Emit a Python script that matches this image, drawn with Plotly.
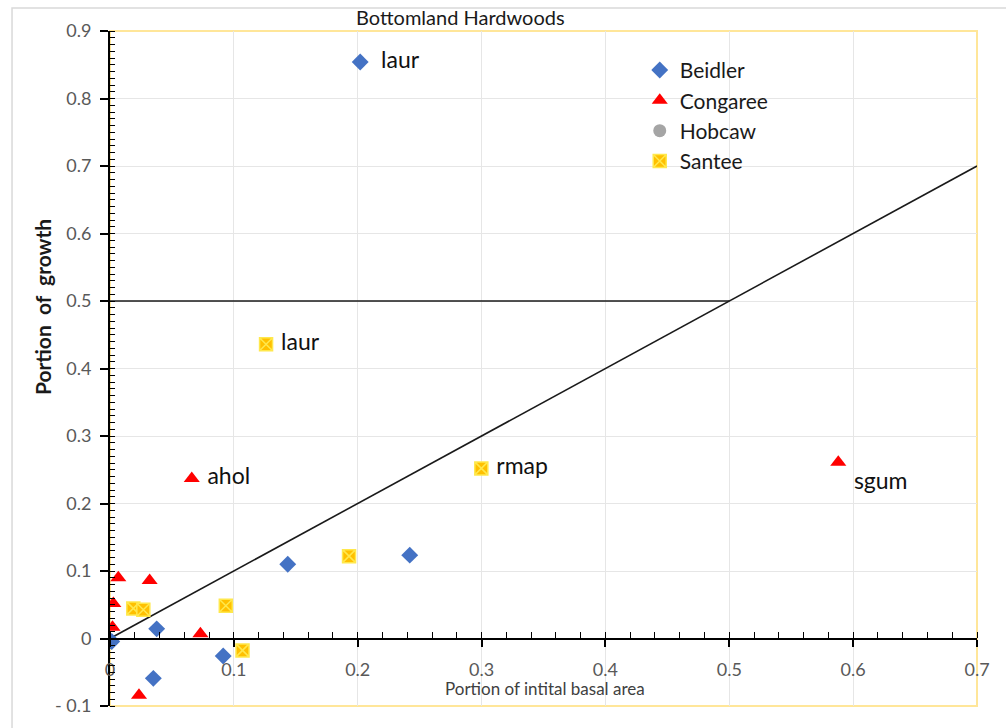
import plotly.graph_objects as go

# ---------------- data ----------------
beidler_x = [0.202, 0.1435, 0.242, 0.0377, 0.0014, 0.0914, 0.035]
beidler_y = [0.854, 0.110, 0.1235, 0.0143, -0.0044, -0.026, -0.059]
beidler_lab = ["laur", "", "", "", "", "", ""]

congaree_x = [0.066, 0.588, 0.0067, 0.032, 0.0027, 0.002, 0.073, 0.0234]
congaree_y = [0.237, 0.261, 0.090, 0.086, 0.052, 0.0166, 0.007, -0.084]
congaree_lab = ["ahol", "sgum", "", "", "", "", "", ""]

hobcaw_x = [None]
hobcaw_y = [None]

santee_x = [0.126, 0.2998, 0.193, 0.0188, 0.0269, 0.0935, 0.107]
santee_y = [0.436, 0.252, 0.122, 0.0446, 0.0426, 0.0485, -0.0176]
santee_lab = ["laur", "rmap", "", "", "", "", ""]

diag_x = [0, 0.7]
diag_y = [0, 0.7]
half_x = [0, 0.5]
half_y = [0.5, 0.5]

x_ticks = [0, 0.1, 0.2, 0.3, 0.4, 0.5, 0.6, 0.7]
x_ticktext = ["0", "0.1", "0.2", "0.3", "0.4", "0.5", "0.6", "0.7"]
y_ticks = [-0.1, 0, 0.1, 0.2, 0.3, 0.4, 0.5, 0.6, 0.7, 0.8, 0.9]
y_ticktext = ["- 0.1", "0", "0.1", "0.2", "0.3", "0.4", "0.5", "0.6", "0.7", "0.8", "0.9"]

FONT = "Lato"
LABEL_FONT = dict(family=FONT, size=23, color="#111111")

fig = go.Figure()

fig.add_trace(go.Scatter(x=diag_x, y=diag_y, mode="lines",
                         line=dict(color="#1a1a1a", width=1.6),
                         showlegend=False, hoverinfo="skip"))
fig.add_trace(go.Scatter(x=half_x, y=half_y, mode="lines",
                         line=dict(color="#1a1a1a", width=1.6),
                         showlegend=False, hoverinfo="skip"))

fig.add_trace(go.Scatter(
    x=beidler_x, y=beidler_y, name="Beidler", mode="markers+text",
    text=beidler_lab, texttemplate="  %{text}", textposition="middle right",
    textfont=LABEL_FONT,
    marker=dict(symbol="diamond", size=13, color="#4472C4",
                line=dict(width=0))))
cong_pos = ["bottom right" if t == "sgum" else "middle right" for t in congaree_lab]
fig.add_trace(go.Scatter(
    x=congaree_x, y=congaree_y, name="Congaree", mode="markers+text",
    text=congaree_lab, texttemplate=" %{text}", textposition=cong_pos,
    textfont=LABEL_FONT,
    marker=dict(symbol="triangle-up", size=14, color="#FF0000",
                line=dict(width=0))))
fig.add_trace(go.Scatter(
    x=hobcaw_x, y=hobcaw_y, name="Hobcaw", mode="markers",
    marker=dict(symbol="circle", size=13, color="#A5A5A5")))
fig.add_trace(go.Scatter(
    x=santee_x, y=santee_y, name="Santee", mode="markers+text",
    text=santee_lab, texttemplate=" %{text}", textposition="middle right",
    textfont=LABEL_FONT,
    marker=dict(symbol="square-x", size=13, color="#FFC000",
                line=dict(width=1.5, color="#FFE84D"))))

fig.update_layout(
    width=1006, height=728,
    margin=dict(l=110, r=29, t=31, b=17),
    paper_bgcolor="white", plot_bgcolor="white",
    font=dict(family=FONT, color="#595959"),
    legend=dict(x=0.611, y=0.972, xanchor="left", yanchor="top",
                bgcolor="rgba(0,0,0,0)",
                font=dict(family=FONT, size=21, color="#1a1a1a"),
                tracegroupgap=0),
    xaxis=dict(range=[0, 0.7], anchor="free", position=0.1,
               tickvals=x_ticks, ticktext=x_ticktext,
               showgrid=True, gridcolor="#E6E6E6", gridwidth=1,
               zeroline=False, showline=True, linecolor="black", linewidth=2,
               ticks="outside", ticklen=7, tickwidth=1.5, tickcolor="black",
               ticklabelstandoff=8,
               minor=dict(dtick=0.02, ticks="inside", ticklen=6,
                          tickcolor="black", tickwidth=1.2, showgrid=False),
               tickfont=dict(family=FONT, size=18, color="#595959")),
    yaxis=dict(range=[-0.1, 0.9], domain=[0, 1],
               tickvals=y_ticks, ticktext=y_ticktext,
               showgrid=True, gridcolor="#E6E6E6", gridwidth=1,
               zeroline=False, showline=True, linecolor="black", linewidth=2,
               ticks="outside", ticklen=8, tickwidth=1.5, tickcolor="black",
               ticklabelstandoff=5, ticklabeloverflow="allow",
               minor=dict(dtick=0.01, ticks="inside", ticklen=5,
                          tickcolor="black", tickwidth=1.2, showgrid=False),
               tickfont=dict(family=FONT, size=18, color="#595959")),
    shapes=[
        dict(type="rect", xref="paper", yref="paper", x0=0, x1=1, y0=0, y1=1,
             line=dict(color="#FFE699", width=2), layer="below"),
        dict(type="rect", xref="paper", yref="paper", x0=-0.113, x1=1.05,
             y0=-0.05, y1=1.034, line=dict(color="#D9D9D9", width=1.5),
             layer="below"),
    ],
    annotations=[
        dict(text="Bottomland Hardwoods", xref="paper", yref="paper",
             x=0.404, y=1.02, xanchor="center", yanchor="middle",
             showarrow=False, font=dict(family=FONT, size=20, color="#1a1a1a")),
        dict(text="<b>Portion  of  growth</b>", xref="paper", yref="paper",
             x=-0.0784, y=0.591, xanchor="center", yanchor="middle",
             textangle=-90, showarrow=False,
             font=dict(family=FONT, size=21, color="#1a1a1a")),
        dict(text="Portion of intital basal area", xref="paper", yref="paper",
             x=0.502, y=0.026, xanchor="center", yanchor="middle",
             showarrow=False, font=dict(family=FONT, size=17, color="#404040")),
    ],
)

fig.write_html("out.html",
               config={"displayModeBar": False},
               post_script="document.body.style.margin='0';"
                           "document.body.style.overflow='hidden';")
